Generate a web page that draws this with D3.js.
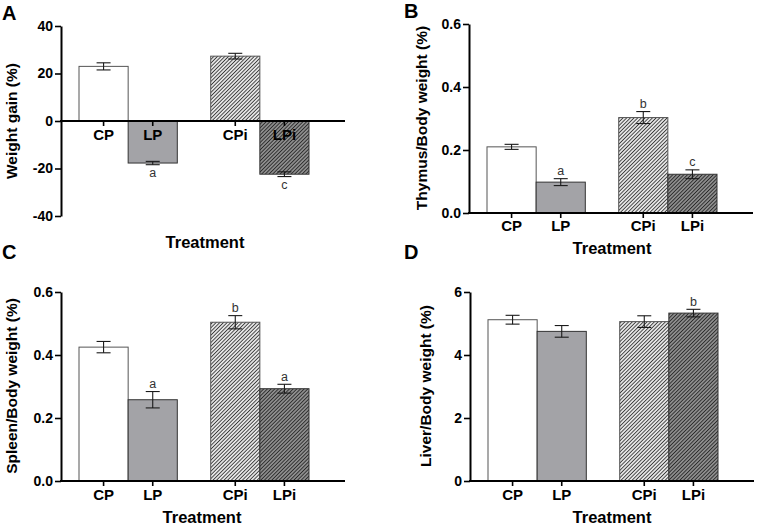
<!DOCTYPE html>
<html><head><meta charset="utf-8">
<script src="https://cdn.jsdelivr.net/npm/d3@7"></script>
<style>
body{margin:0;background:#fff}
svg{display:block;font-family:"Liberation Sans",Arial,sans-serif}
</style>
</head><body>
<svg id="chart" width="757" height="526"></svg>
<script>
// ---- data ----
const categories = ["CP", "LP", "CPi", "LPi"];
const groupOf = ["plain", "plain", "injected", "injected"];
const groups = ["plain", "injected"];

const weightGain = [23.0, -17.7, 27.3, -22.4];
const weightGainErr = [1.5, 0.7, 1.2, 1.0];
const weightGainSig = ["", "a", "", "c"];

const thymus = [0.21, 0.098, 0.303, 0.123];
const thymusErr = [0.008, 0.011, 0.019, 0.014];
const thymusSig = ["", "a", "b", "c"];

const spleen = [0.425, 0.258, 0.504, 0.293];
const spleenErr = [0.018, 0.026, 0.021, 0.014];
const spleenSig = ["", "a", "b", "a"];

const liver = [5.12, 4.75, 5.06, 5.33];
const liverErr = [0.14, 0.185, 0.185, 0.12];
const liverSig = ["", "", "", "b"];

const ticksA = [-40, -20, 0, 20, 40];
const ticksRatio = [0.0, 0.2, 0.4, 0.6];
const ticksLiver = [0, 2, 4, 6];

// ---- layout ----
const svg = d3.select("#chart");
const defs = svg.append("defs");
function hatch(id, bg, fg) {
  const p = defs.append("pattern").attr("id", id)
    .attr("patternUnits", "userSpaceOnUse")
    .attr("width", 2.6).attr("height", 2.6)
    .attr("patternTransform", "rotate(45)");
  p.append("rect").attr("width", 2.6).attr("height", 2.6).attr("fill", bg);
  p.append("line").attr("x1", 1.3).attr("x2", 1.3).attr("y1", 0).attr("y2", 2.6)
    .attr("stroke", fg).attr("stroke-width", 1.1);
}
hatch("hatchLight", "#ffffff", "#3a3a3a");
hatch("hatchDark", "#9c9c9c", "#2a2a2a");

const fills = ["#ffffff", "#a3a3a7", "url(#hatchLight)", "url(#hatchDark)"];
const strokes = ["#555", "#333", "#555", "#333"];

const panels = [
  {letter: "A", lx: 2, ly: 20, x0: 61, yTop: 26, yBot: 216, dom: [-40, 40], ticks: ticksA,
   fmt: d => String(d), values: weightGain, errs: weightGainErr, sig: weightGainSig,
   ylabel: "Weight gain (%)", ylx: 17, yly: 121, catY: 140, tx: 205, ty: 248},
  {letter: "B", lx: 404, ly: 18, x0: 469, yTop: 24, yBot: 213, dom: [0, 0.6], ticks: ticksRatio,
   fmt: d3.format(".1f"), values: thymus, errs: thymusErr, sig: thymusSig,
   ylabel: "Thymus/Body weight (%)", ylx: 427, yly: 118, catY: 231, tx: 612, ty: 254},
  {letter: "C", lx: 2, ly: 259, x0: 61, yTop: 292, yBot: 481, dom: [0, 0.6], ticks: ticksRatio,
   fmt: d3.format(".1f"), values: spleen, errs: spleenErr, sig: spleenSig,
   ylabel: "Spleen/Body weight (%)", ylx: 17, yly: 386, catY: 500, tx: 202, ty: 523},
  {letter: "D", lx: 404, ly: 259, x0: 470, yTop: 292, yBot: 481, dom: [0, 6], ticks: ticksLiver,
   fmt: d => String(d), values: liver, errs: liverErr, sig: liverSig,
   ylabel: "Liver/Body weight (%)", ylx: 431, yly: 386, catY: 500, tx: 612, ty: 523}
];

panels.forEach(p => {
  const g = svg.append("g");
  const y = d3.scaleLinear().domain(p.dom).range([p.yBot, p.yTop]);
  const outer = d3.scaleBand().domain(groups)
    .range([p.x0 + 18, p.x0 + 124 + 18 + 106]).paddingInner(36 / 142).paddingOuter(0);
  const inner = d3.scaleBand().domain([0, 1]).range([0, outer.bandwidth()]).padding(0);
  const bx = i => outer(groupOf[i]) + inner(i % 2);
  const bw = inner.bandwidth();
  const cx = i => bx(i) + bw / 2;
  const y0 = y(0);

  // bars
  g.selectAll("rect.bar").data(p.values).join("rect")
    .attr("x", (d, i) => bx(i))
    .attr("y", d => Math.min(y(d), y0))
    .attr("width", bw)
    .attr("height", d => Math.abs(y(d) - y0))
    .attr("fill", (d, i) => fills[i])
    .attr("stroke", (d, i) => strokes[i])
    .attr("stroke-width", 1);

  // error bars
  p.values.forEach((v, i) => {
    const e = p.errs[i];
    const eg = g.append("g").attr("stroke", "#1a1a1a").attr("stroke-width", 1.1);
    eg.append("line").attr("x1", cx(i)).attr("x2", cx(i)).attr("y1", y(v - e)).attr("y2", y(v + e));
    [v - e, v + e].forEach(t => eg.append("line")
      .attr("x1", cx(i) - 7).attr("x2", cx(i) + 7).attr("y1", y(t)).attr("y2", y(t)));
    if (p.sig[i]) {
      const neg = v < 0;
      g.append("text")
        .attr("x", cx(i))
        .attr("y", neg ? y(v - e) + 12 : y(v + e) - 3.5)
        .attr("text-anchor", "middle")
        .attr("font-size", 12.5)
        .attr("fill", "#333")
        .text(p.sig[i]);
    }
  });

  // y axis
  const ax = g.append("g").attr("transform", `translate(${p.x0},0)`)
    .call(d3.axisLeft(y).tickValues(p.ticks).tickFormat(p.fmt).tickSize(6).tickSizeOuter(0).tickPadding(2));
  ax.select(".domain").attr("stroke", "#000").attr("stroke-width", 2);
  ax.selectAll(".tick line").attr("stroke", "#000").attr("stroke-width", 1.6);
  ax.selectAll(".tick text").attr("font-size", 14).attr("font-weight", "bold")
    .attr("fill", "#000").attr("font-family", "Liberation Sans, Arial, sans-serif");

  // x baseline
  g.append("line").attr("x1", p.x0 - 1).attr("x2", p.x0 + 284)
    .attr("y1", y0).attr("y2", y0).attr("stroke", "#000").attr("stroke-width", 2);
  categories.forEach((c, i) => {
    g.append("line").attr("x1", cx(i)).attr("x2", cx(i)).attr("y1", y0).attr("y2", y0 + 5)
      .attr("stroke", "#000").attr("stroke-width", 1.6);
    g.append("text").attr("x", cx(i)).attr("y", p.catY).attr("text-anchor", "middle")
      .attr("font-size", 15).attr("font-weight", "bold").text(c);
  });

  // titles
  g.append("text").attr("x", p.tx).attr("y", p.ty).attr("text-anchor", "middle")
    .attr("font-size", 16.5).attr("font-weight", "bold").text("Treatment");
  g.append("text").attr("transform", `translate(${p.ylx},${p.yly}) rotate(-90)`)
    .attr("text-anchor", "middle").attr("font-size", 15.5).attr("font-weight", "bold")
    .text(p.ylabel);
  g.append("text").attr("x", p.lx).attr("y", p.ly).attr("font-size", 20)
    .attr("font-weight", "bold").text(p.letter);
});
</script>
</body></html>
